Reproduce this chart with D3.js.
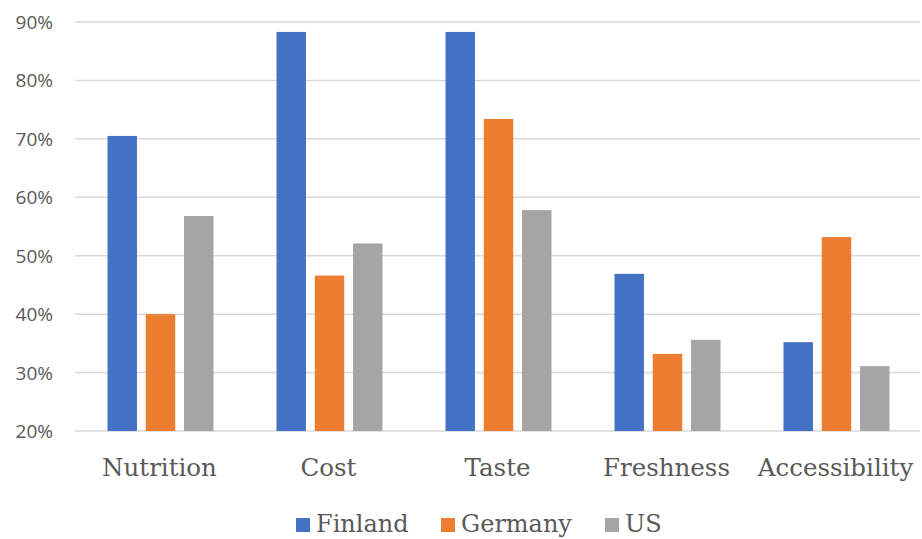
<!DOCTYPE html>
<html>
<head>
<meta charset="utf-8">
<script src="https://cdn.jsdelivr.net/npm/d3@7/dist/d3.min.js"></script>
<style>
  html, body { margin: 0; padding: 0; background: #fff; }
  svg { display: block; }
</style>
</head>
<body>
<svg id="chart" width="922" height="539"></svg>
<script>
// Share of respondents naming each factor, by country
const categories = ["Nutrition", "Cost", "Taste", "Freshness", "Accessibility"];
const seriesNames = ["Finland", "Germany", "US"];
const finland = [0.705, 0.883, 0.883, 0.469, 0.352];
const germany = [0.400, 0.466, 0.734, 0.332, 0.532];
const us      = [0.568, 0.521, 0.578, 0.356, 0.311];
const yTicks = [0.2, 0.3, 0.4, 0.5, 0.6, 0.7, 0.8, 0.9];
const colors = ["#4472C4", "#ED7D31", "#A5A5A5"];

const seriesValues = [finland, germany, us];

const svg = d3.select("#chart");
const plot = { left: 75, right: 920, top: 22, bottom: 431 };

const y = d3.scaleLinear().domain([0.2, 0.9]).range([plot.bottom, plot.top]);
const x0 = d3.scaleBand().domain(categories).range([plot.left, plot.right]).padding(0);
const x1 = d3.scaleBand().domain(seriesNames)
  .range([32.5, x0.bandwidth() - 30.5])
  .paddingInner(0.23).paddingOuter(0);
const color = d3.scaleOrdinal().domain(seriesNames).range(colors);

// Horizontal gridlines
svg.append("g")
  .selectAll("line")
  .data(yTicks)
  .join("line")
  .attr("x1", plot.left).attr("x2", plot.right)
  .attr("y1", d => y(d)).attr("y2", d => y(d))
  .attr("stroke", "#d9d9d9")
  .attr("stroke-width", 1.5);

// Y tick labels
svg.append("g")
  .selectAll("text")
  .data(yTicks)
  .join("text")
  .attr("x", 53)
  .attr("y", d => y(d) + 7)
  .attr("text-anchor", "end")
  .attr("font-family", "'Open Sans', 'Liberation Sans', sans-serif")
  .attr("font-size", 19)
  .attr("fill", "#595959")
  .text(d => d3.format(".0%")(d));

// Bars
const rows = categories.map((c, i) => ({
  category: c,
  values: seriesNames.map((s, j) => ({ series: s, value: seriesValues[j][i] }))
}));

svg.append("g")
  .selectAll("g")
  .data(rows)
  .join("g")
  .attr("transform", d => `translate(${x0(d.category)},0)`)
  .selectAll("rect")
  .data(d => d.values)
  .join("rect")
  .attr("x", d => x1(d.series))
  .attr("width", x1.bandwidth())
  .attr("y", d => y(d.value))
  .attr("height", d => y(0.2) - y(d.value))
  .attr("fill", d => color(d.series));

// Category labels
svg.append("g")
  .selectAll("text")
  .data(categories)
  .join("text")
  .attr("x", d => x0(d) + x0.bandwidth() / 2)
  .attr("y", 476)
  .attr("text-anchor", "middle")
  .attr("font-family", "'DejaVu Serif', serif")
  .attr("font-size", 24.5)
  .attr("fill", "#595959")
  .text(d => d);

// Legend
const legendItems = [
  { name: "Finland", x: 296 },
  { name: "Germany", x: 441 },
  { name: "US", x: 605 }
];
const legend = svg.append("g")
  .selectAll("g")
  .data(legendItems)
  .join("g")
  .attr("transform", d => `translate(${d.x},0)`);
legend.append("rect")
  .attr("x", 0).attr("y", 518)
  .attr("width", 14).attr("height", 14)
  .attr("fill", d => color(d.name));
legend.append("text")
  .attr("x", 20).attr("y", 532)
  .attr("font-family", "'DejaVu Serif', serif")
  .attr("font-size", 24)
  .attr("fill", "#595959")
  .text(d => d.name);
</script>
</body>
</html>
